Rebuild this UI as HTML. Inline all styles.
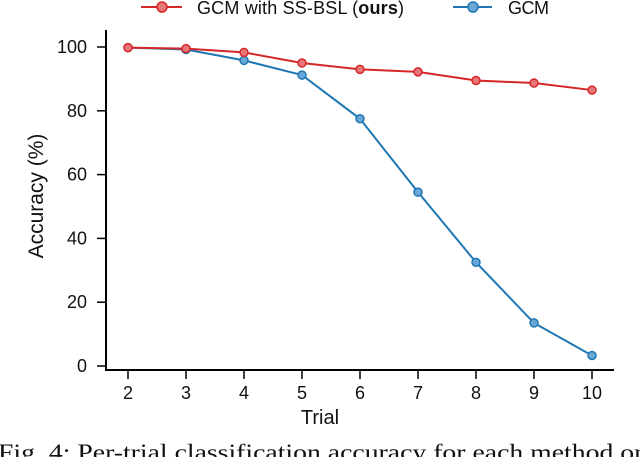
<!DOCTYPE html>
<html><head><meta charset="utf-8"><style>
body{margin:0;background:#fff;width:640px;height:457px;overflow:hidden}
svg{display:block}
text{font-family:"Liberation Sans",sans-serif;fill:#111}
</style></head><body>
<svg id="c" width="640" height="457">
<g id="legend">
<g>
<line x1="141" y1="7" x2="182" y2="7" stroke="#d62728" stroke-width="2"/>
<circle cx="162" cy="7" r="5" fill="#e8777a" stroke="#d62728" stroke-width="1.5"/>
<text x="197" y="14" font-size="18" textLength="207">GCM with SS-BSL (<tspan font-weight="bold">ours</tspan>)</text>
</g>
<g>
<line x1="453" y1="7" x2="492" y2="7" stroke="#1f77b4" stroke-width="2"/>
<circle cx="473" cy="7" r="5" fill="#6aa6d6" stroke="#1f77b4" stroke-width="1.5"/>
<text x="508" y="14" font-size="18" textLength="41">GCM</text>
</g>
</g>
<g id="axes"></g>
<g id="marks"></g>
<text x="320" y="424" font-size="20" text-anchor="middle">Trial</text>
<text transform="translate(43,196) rotate(-90)" font-size="21" text-anchor="middle">Accuracy (%)</text>
<text x="-2" y="460" font-size="23" textLength="650" lengthAdjust="spacingAndGlyphs" style="font-family:'Liberation Serif',serif">Fig. 4: Per-trial classification accuracy for each method on</text>
</svg>
<script>
const trials=[2,3,4,5,6,7,8,9,10];
const oursValues=[99.8,99.5,98.3,95,93,92.2,89.5,88.7,86.5];
const gcmValues=[99.8,99.2,95.8,91.2,77.5,54.5,32.5,13.5,3.3];
const yTicks=[0,20,40,60,80,100];
const NS="http://www.w3.org/2000/svg";
const xS=t=>128+(t-2)*58;
const yS=v=>366-v*3.19;
function mk(tag,at,parent){const e=document.createElementNS(NS,tag);for(const k in at)e.setAttribute(k,at[k]);parent.appendChild(e);return e;}
const ax=document.getElementById('axes');
let l=mk('line',{x1:106,y1:30,x2:106,y2:371,stroke:'#000','stroke-width':2},ax);


l=mk('line',{x1:105,y1:370,x2:614,y2:370,stroke:'#000','stroke-width':2},ax);


yTicks.forEach(v=>{
 const t=mk('line',{x1:97,y1:yS(v),x2:106,y2:yS(v),stroke:'#000','stroke-width':1.5},ax);
 
 
 const tx=mk('text',{x:87,y:yS(v)+6,'font-size':18,'text-anchor':'end'},ax);tx.textContent=v;
 
 
});
trials.forEach(t=>{
 const k=mk('line',{x1:xS(t),y1:370,x2:xS(t),y2:379,stroke:'#000','stroke-width':1.5},ax);
 
 
 const tx=mk('text',{x:xS(t),y:399,'font-size':18,'text-anchor':'middle'},ax);tx.textContent=t;
 
 
});
const mg=document.getElementById('marks');
function series(vals,col,fill,name){
 const p=mk('polyline',{points:vals.map((v,i)=>xS(trials[i])+','+yS(v)).join(' '),fill:'none',stroke:col,'stroke-width':2},mg);
 
 
 vals.forEach((v,i)=>{
  const c=mk('circle',{cx:xS(trials[i]),cy:yS(v),r:4,fill:fill,stroke:col,'stroke-width':1.5},mg);
  
  
 });
}
series(gcmValues,'#1f77b4','#6aa6d6','gcm');
series(oursValues,'#d62728','#e8777a','ours');
</script>
</body></html>
